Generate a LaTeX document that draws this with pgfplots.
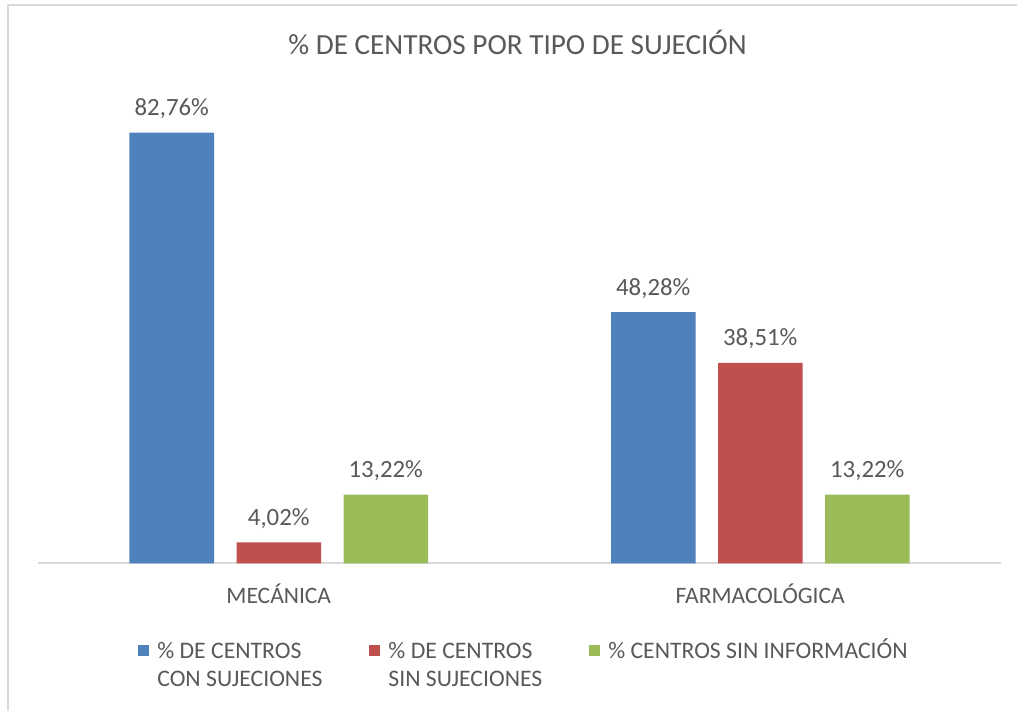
\documentclass[border=0pt]{standalone}
\usepackage{fontspec}
\setmainfont{Carlito}
\usepackage{pgfplots}
\pgfplotsset{compat=1.18}
\definecolor{cblue}{HTML}{4F81BD}
\definecolor{cred}{HTML}{C0504D}
\definecolor{cgreen}{HTML}{9BBB59}
\definecolor{txt}{HTML}{595959}
\definecolor{axgray}{HTML}{D9D9D9}
\begin{document}
\begin{tikzpicture}
\fill[white] (0,0) rectangle (508.5pt,355.5pt);
\useasboundingbox (0,0) rectangle (508.5pt,355.5pt);
\draw[axgray, line width=1pt] (4pt,0) -- (4pt,353pt) -- (508.5pt,353pt);
\begin{axis}[
  at={(19pt,73.85pt)}, anchor=south west,
  scale only axis, width=481.5pt, height=234.15pt,
  xmin=-0.5, xmax=1.5, ymin=0, ymax=90,
  ybar=11.25pt, bar width=42.25pt,
  hide y axis, axis x line*=bottom,
  x axis line style={draw=axgray, line width=1pt},
  xtick={0,1}, xticklabels={MECÁNICA, FARMACOLÓGICA},
  xtick style={draw=none}, major tick length=0pt,
  xticklabel style={font=\fontsize{11.75}{14}\selectfont, text=txt, anchor=base, yshift=-20pt},
  nodes near coords={\pgfmathprintnumber{\pgfplotspointmeta}\%},
  every node near coord/.append style={font=\fontsize{12.4}{14}\selectfont, text=txt, anchor=base, yshift=8.5pt, inner sep=0pt},
  /pgf/number format/.cd, use comma, fixed, fixed zerofill, precision=2, assume math mode=true, /pgfplots/.cd,
  legend columns=3,
  legend style={at={(0.1038,-0.151)}, anchor=north west, draw=none, fill=none, inner sep=0pt,
    font=\fontsize{11.85}{14}\selectfont, text=txt,
    cells={anchor=base west},
    /tikz/every even column/.append style={column sep=21.5pt},
    /tikz/every odd column/.append style={column sep=2pt}},
  legend image code/.code={\fill[#1] (0pt,1.15pt) rectangle (5.5pt,6.65pt);},
]
\addplot[fill=cblue, draw=none] coordinates {(0,82.76) (1,48.28)};
\addplot[fill=cred, draw=none] coordinates {(0,4.02) (1,38.51)};
\addplot[fill=cgreen, draw=none] coordinates {(0,13.22) (1,13.22)};
\addlegendentry{\vtop{\hbox{\% DE CENTROS}\hbox{CON SUJECIONES}}}
\addlegendentry{\vtop{\hbox{\% DE CENTROS}\hbox{SIN SUJECIONES}}}
\addlegendentry{\% CENTROS SIN INFORMACIÓN}
\end{axis}
\node[anchor=base, font=\fontsize{14.6}{17}\selectfont, text=txt] at (258.75pt,328pt) {\% DE CENTROS POR TIPO DE SUJECIÓN};
\end{tikzpicture}
\end{document}
